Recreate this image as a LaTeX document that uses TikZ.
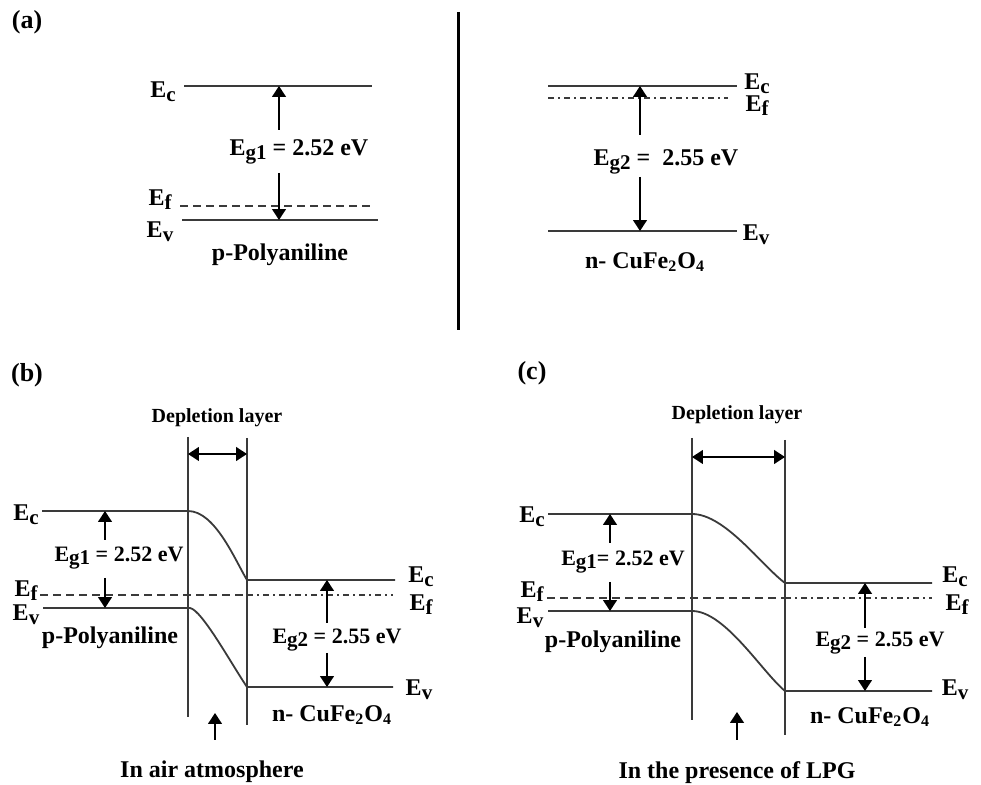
\documentclass[tikz,border=0pt]{standalone}
\usepackage{fontspec}
\setmainfont{Liberation Serif}
\usepackage{tikz}
\usetikzlibrary{arrows.meta,calc}
\definecolor{bandgray}{HTML}{3A3A3A}
\newcommand{\Elev}[1]{E\raisebox{-0.35ex}{\fontsize{10.5}{12}\selectfont #1}}
\tikzset{
  >={Triangle[length=1.9mm,width=2.4mm]},
  % nivåer
  lvl/.style={draw=bandgray,line width=0.9pt},
  fermi/.style={draw=bandgray,line width=0.8pt,dash pattern=on 4pt off 2.5pt},
  fermidot/.style={draw=bandgray,line width=0.8pt,dash pattern=on 3pt off 2pt on 1pt off 2pt},
  wall/.style={draw=bandgray,line width=0.9pt},
  divider/.style={draw=black,line width=1.5pt},
  % pilar
  gap/.style={->,draw=black,line width=0.8pt},
  span/.style={<->,draw=black,line width=0.8pt},
  % text
  lab/.style={font=\fontsize{12}{14}\selectfont\bfseries,inner sep=1pt},
  glab/.style={font=\fontsize{11}{13}\selectfont\bfseries,inner sep=1pt},
  tag/.style={font=\fontsize{13}{15}\selectfont\bfseries,inner sep=1pt},
  dlab/.style={font=\fontsize{10}{12}\selectfont\bfseries,inner sep=1pt},
}

\begin{document}
\begin{tikzpicture}[x=0.5pt,y=-0.5pt]
\useasboundingbox (0,0) rectangle (981,785);
% (a)
  \node[tag] (ta) at (27,22) {(a)};
  \coordinate (dv1) at (458,12);
  \coordinate (dv2) at (458,330);
  \draw[divider] (dv1) -- (dv2);
  % p-polyanilin
  \coordinate (ecA1) at (184,86);  \coordinate (ecA2) at (372,86);
  \coordinate (efA1) at (180,206); \coordinate (efA2) at (373,206);
  \coordinate (evA1) at (182,220); \coordinate (evA2) at (378,220);
  \draw[lvl] (ecA1) -- (ecA2);
  \draw[fermi] (efA1) -- (efA2);
  \draw[lvl] (evA1) -- (evA2);
  \node[lab] (ecAl) at (163,92) {\Elev{c}};
  \node[lab] (efAl) at (160,200) {\Elev{f}};
  \node[lab] (evAl) at (160,232) {\Elev{v}};
  \coordinate (auA) at (279,130);
  \coordinate (adA) at (279,173);
  \draw[gap] (auA) -- (auA |- ecA1);
  \draw[gap] (adA) -- (adA |- evA1);
  \node[lab] (gA) at (299,152) {\Elev{g1} = 2.52 eV};
  \node[lab] (pA) at (280,255) {p-Polyaniline};
  % n-CuFe2O4
  \coordinate (ecB1) at (548,86);  \coordinate (ecB2) at (737,86);
  \coordinate (efB1) at (548,98);  \coordinate (efB2) at (728,98);
  \coordinate (evB1) at (548,231); \coordinate (evB2) at (737,231);
  \draw[lvl] (ecB1) -- (ecB2);
  \draw[fermidot] (efB1) -- (efB2);
  \draw[lvl] (evB1) -- (evB2);
  \node[lab] (ecBl) at (757,84) {\Elev{c}};
  \node[lab] (efBl) at (757,106) {\Elev{f}};
  \node[lab] (evBl) at (756,235) {\Elev{v}};
  \coordinate (auB) at (640,135);
  \coordinate (adB) at (640,177);
  \draw[gap] (auB) -- (auB |- ecB1);
  \draw[gap] (adB) -- (adB |- evB1);
  \node[lab] (gB) at (666,162) {\Elev{g2} =\ \ 2.55 eV};
  \node[lab] (nB) at (645,262) {n- CuFe\textsubscript{2}O\textsubscript{4}};
% (b) i luft
  \node[tag] (tb) at (27,375) {(b)};
  \node[dlab] (dlb) at (217,418) {Depletion layer};
  \coordinate (wb1t) at (188,437); \coordinate (wb1b) at (188,717);
  \coordinate (wb2t) at (247,438); \coordinate (wb2b) at (247,725);
  \draw[wall] (wb1t) -- (wb1b);
  \draw[wall] (wb2t) -- (wb2b);
  \coordinate (sb1) at (188,454); \coordinate (sb2) at (247,454);
  \draw[span] (sb1) -- (sb2);
  \coordinate (ecb1) at (42,511);  \coordinate (ecb2) at (188,511);
  \coordinate (ecb3) at (247,580); \coordinate (ecb4) at (395,580);
  \coordinate (efb1) at (40,595);  \coordinate (efb2) at (247,595);
  \coordinate (efb3) at (393,595);
  \coordinate (evb1) at (43,608);  \coordinate (evb2) at (190,608);
  \coordinate (evb3) at (247,687); \coordinate (evb4) at (393,687);
  \draw[lvl] (ecb1) -- (ecb2) .. controls (215,511) and (235,560) .. (ecb3) -- (ecb4);
  \draw[fermi] (efb1) -- (efb2);
  \draw[fermidot] (efb2) -- (efb3);
  \draw[lvl] (evb1) -- (evb2) .. controls (202,610) and (232,665) .. (evb3) -- (evb4);
  \node[lab] (ecbl) at (26,515) {\Elev{c}};
  \node[lab] (efbl) at (26,591) {\Elev{f}};
  \node[lab] (evbl) at (26,615) {\Elev{v}};
  \node[lab] (ecbr) at (421,577) {\Elev{c}};
  \node[lab] (efbr) at (421,605) {\Elev{f}};
  \node[lab] (evbr) at (419,690) {\Elev{v}};
  \coordinate (aub1) at (105,540); \coordinate (adb1) at (105,578);
  \draw[gap] (aub1) -- (aub1 |- ecb1);
  \draw[gap] (adb1) -- (adb1 |- evb1);
  \node[glab] (gb1) at (119,558) {\Elev{g1} = 2.52 eV};
  \coordinate (aub2) at (327,623); \coordinate (adb2) at (327,653);
  \draw[gap] (aub2) -- (aub2 |- ecb3);
  \draw[gap] (adb2) -- (adb2 |- evb3);
  \node[glab] (gb2) at (337,640) {\Elev{g2} = 2.55 eV};
  \node[lab] (pb) at (110,638) {p-Polyaniline};
  \node[lab] (nb) at (332,715) {n- CuFe\textsubscript{2}O\textsubscript{4}};
  \coordinate (ib) at (215,740); \coordinate (ibt) at (215,713);
  \draw[gap] (ib) -- (ibt);
  \node[lab] (airb) at (212,772) {In air atmosphere};
% (c) med LPG
  \node[tag] (tc) at (532,373) {(c)};
  \node[dlab] (dlc) at (737,415) {Depletion layer};
  \coordinate (wc1t) at (692,438); \coordinate (wc1b) at (692,720);
  \coordinate (wc2t) at (785,440); \coordinate (wc2b) at (785,735);
  \draw[wall] (wc1t) -- (wc1b);
  \draw[wall] (wc2t) -- (wc2b);
  \coordinate (sc1) at (692,457); \coordinate (sc2) at (785,457);
  \draw[span] (sc1) -- (sc2);
  \coordinate (ecc1) at (548,514); \coordinate (ecc2) at (692,514);
  \coordinate (ecc3) at (785,583); \coordinate (ecc4) at (932,583);
  \coordinate (efc1) at (547,598); \coordinate (efc2) at (785,598);
  \coordinate (efc3) at (932,598);
  \coordinate (evc1) at (548,611); \coordinate (evc2) at (692,611);
  \coordinate (evc3) at (785,691); \coordinate (evc4) at (932,691);
  \draw[lvl] (ecc1) -- (ecc2) .. controls (725,514) and (762,566) .. (ecc3) -- (ecc4);
  \draw[fermi] (efc1) -- (efc2);
  \draw[fermidot] (efc2) -- (efc3);
  \draw[lvl] (evc1) -- (evc2) .. controls (725,611) and (762,672) .. (evc3) -- (evc4);
  \node[lab] (eccl) at (532,517) {\Elev{c}};
  \node[lab] (efcl) at (532,592) {\Elev{f}};
  \node[lab] (evcl) at (530,618) {\Elev{v}};
  \node[lab] (eccr) at (955,577) {\Elev{c}};
  \node[lab] (efcr) at (957,605) {\Elev{f}};
  \node[lab] (evcr) at (955,690) {\Elev{v}};
  \coordinate (auc1) at (610,543); \coordinate (adc1) at (610,582);
  \draw[gap] (auc1) -- (auc1 |- ecc1);
  \draw[gap] (adc1) -- (adc1 |- evc1);
  \node[glab] (gc1) at (623,562) {\Elev{g1}= 2.52 eV};
  \coordinate (auc2) at (865,628); \coordinate (adc2) at (865,657);
  \draw[gap] (auc2) -- (auc2 |- ecc3);
  \draw[gap] (adc2) -- (adc2 |- evc3);
  \node[glab] (gc2) at (880,643) {\Elev{g2} = 2.55 eV};
  \node[lab] (pc) at (613,642) {p-Polyaniline};
  \node[lab] (nc) at (870,717) {n- CuFe\textsubscript{2}O\textsubscript{4}};
  \coordinate (ic) at (737,740); \coordinate (ict) at (737,712);
  \draw[gap] (ic) -- (ict);
  \node[lab] (lpgc) at (737,773) {In the presence of LPG};
\end{tikzpicture}
\end{document}
